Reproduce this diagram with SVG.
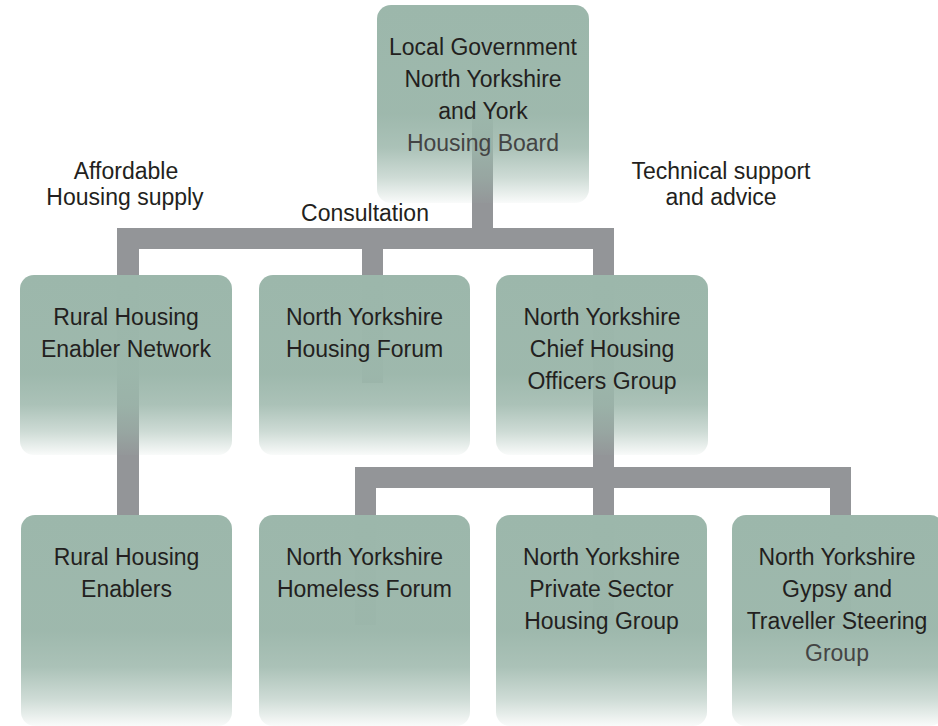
<svg xmlns="http://www.w3.org/2000/svg" width="938" height="726" viewBox="0 0 938 726">
<defs>
<linearGradient id="fade" x1="0" y1="0" x2="0" y2="1">
<stop offset="0" stop-color="#9cb7ab" stop-opacity="1"/>
<stop offset="0.55" stop-color="#9cb7ab" stop-opacity="0.98"/>
<stop offset="0.72" stop-color="#9cb7ab" stop-opacity="0.85"/>
<stop offset="0.87" stop-color="#9cb7ab" stop-opacity="0.5"/>
<stop offset="1" stop-color="#9cb7ab" stop-opacity="0.06"/>
</linearGradient>
</defs>
<style>
.box{fill:url(#fade);}
.conn{fill:#939598;}
text{font-family:"Liberation Sans",Arial,sans-serif;font-size:23px;fill:#231f20;text-anchor:middle;}
.lite{fill:#444444;}
</style>
<rect width="938" height="726" fill="#ffffff"/>
<g id="connectors">
<rect class="conn" x="472" y="110" width="21" height="139"/>
<rect class="conn" x="117" y="228" width="497" height="21"/>
<rect class="conn" x="117" y="228" width="22" height="288"/>
<rect class="conn" x="362" y="228" width="21" height="155"/>
<rect class="conn" x="593" y="228" width="21" height="397"/>
<rect class="conn" x="355" y="467" width="496" height="21"/>
<rect class="conn" x="355" y="467" width="21" height="158"/>
<rect class="conn" x="830" y="467" width="21" height="158"/>
</g>
<g id="labels">
<text x="126" y="179">Affordable</text>
<text x="125" y="205">Housing supply</text>
<text x="365" y="221">Consultation</text>
<text x="721" y="179">Technical support</text>
<text x="721" y="205">and advice</text>
</g>
<g id="node-board">
<rect class="box" x="377" y="5" width="212" height="198" rx="14"/>
<text x="483" y="55">Local Government</text>
<text x="483" y="87">North Yorkshire</text>
<text x="483" y="119">and York</text>
<text x="483" y="151" class="lite">Housing Board</text>
</g>
<g id="node-rhen">
<rect class="box" x="20" y="275" width="212" height="180" rx="14"/>
<text x="126" y="325">Rural Housing</text>
<text x="126" y="357">Enabler Network</text>
</g>
<g id="node-hforum">
<rect class="box" x="259" y="275" width="211" height="180" rx="14"/>
<text x="364.5" y="325">North Yorkshire</text>
<text x="364.5" y="357">Housing Forum</text>
</g>
<g id="node-cho">
<rect class="box" x="496" y="275" width="212" height="180" rx="14"/>
<text x="602" y="325">North Yorkshire</text>
<text x="602" y="357">Chief Housing</text>
<text x="602" y="389">Officers Group</text>
</g>
<g id="node-rhe">
<rect class="box" x="21" y="515" width="211" height="211" rx="14"/>
<text x="126.5" y="565">Rural Housing</text>
<text x="126.5" y="597">Enablers</text>
</g>
<g id="node-homeless">
<rect class="box" x="259" y="515" width="211" height="211" rx="14"/>
<text x="364.5" y="565">North Yorkshire</text>
<text x="364.5" y="597">Homeless Forum</text>
</g>
<g id="node-private">
<rect class="box" x="496" y="515" width="211" height="211" rx="14"/>
<text x="601.5" y="565">North Yorkshire</text>
<text x="601.5" y="597">Private Sector</text>
<text x="601.5" y="629">Housing Group</text>
</g>
<g id="node-gypsy">
<rect class="box" x="732" y="515" width="212" height="211" rx="14"/>
<text x="837" y="565">North Yorkshire</text>
<text x="837" y="597">Gypsy and</text>
<text x="837" y="629">Traveller Steering</text>
<text x="837" y="661" class="lite">Group</text>
</g>
</svg>
